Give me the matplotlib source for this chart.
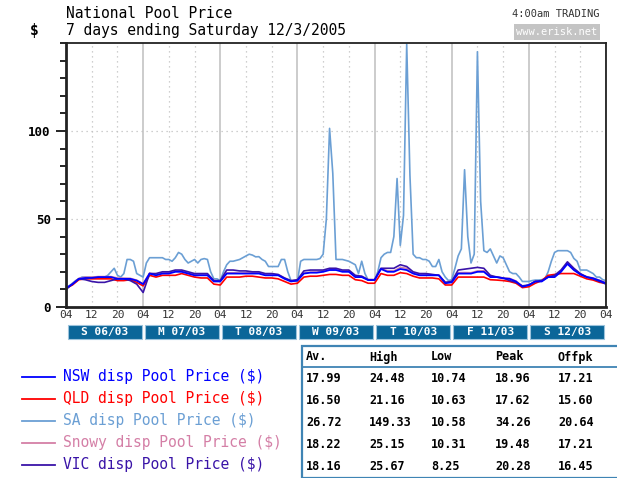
import numpy as np
import matplotlib
matplotlib.use("Agg")
import matplotlib.pyplot as plt
from matplotlib.patches import Rectangle
import matplotlib.transforms as mtransforms

plt.rcParams['font.family'] = ['DejaVu Sans Mono']

# hours after 04:00 on Sunday 06/03
hours_2h = np.arange(0, 169, 2)
hours_1h = np.arange(0, 169, 1)

nsw = [10.74, 13, 16, 16.5, 16.5, 17, 17, 17, 16, 16, 16, 15,
       13, 19, 18, 19, 19, 20, 20, 19, 18, 18, 18, 14.5,
       14.5, 19, 19, 19, 19, 19, 19, 18, 18, 18, 16, 14.5,
       15, 19, 19.5, 19.5, 20, 21, 21, 20, 20, 17, 17, 15.3,
       15.3, 21.6, 20, 20, 21.6, 21, 19, 18, 18, 18, 18, 13.5,
       14, 19, 19, 19, 20, 20, 17, 17, 16.3, 16, 14.5, 11.5,
       12.5, 14.5, 14.5, 17, 17, 20, 24.48, 21, 18.5, 17, 16.3, 15, 13.5]
qld = [10.63, 12.5, 15.5, 16, 16, 16, 16, 16, 15, 15, 15.5, 14,
       12, 18, 17, 18, 18, 18, 19, 18, 17, 16.5, 16.5, 13,
       12.5, 17, 17, 17, 17.5, 17.5, 17, 16.5, 16.5, 16, 14.5, 13,
       13.5, 17, 17.5, 17.5, 18, 18.5, 18.5, 18, 18, 15.5, 15, 13.5,
       13.5, 19, 18, 18, 19.5, 19, 17.5, 16.5, 16.5, 16.5, 16, 12.5,
       12.5, 17, 17, 17, 17, 17, 15.5, 15.3, 15, 14.5, 13.5, 11,
       11.5, 13.5, 15, 18, 18.5, 19, 19, 19, 17.5, 16, 15.3, 14, 13.5]
snowy = [10.31, 13.2, 16.3, 17, 17, 17.3, 17.3, 17.3, 16.5, 16.4, 16.3, 15.3,
         13.2, 19.3, 18.5, 19.3, 19.5, 20.3, 20.5, 19.4, 18.5, 18.4, 18.3, 15,
         14.8, 19.4, 19.5, 19.3, 19.4, 19.6, 19.5, 18.5, 18.4, 18.3, 16.4, 14.8,
         15.3, 19.3, 19.8, 19.9, 20.4, 21.4, 21.5, 20.4, 20.3, 17.3, 17.4, 15.6,
         15.6, 21.8, 20.6, 20.5, 22.5, 22, 19.4, 18.4, 18.5, 18.3, 18.2, 14,
         14.3, 19.5, 19.6, 19.5, 20.5, 20.6, 17.4, 17.2, 16.5, 16.3, 14.8, 11.8,
         12.3, 14.8, 14.8, 17.3, 17.5, 20.3, 25.15, 21.4, 18.8, 17.3, 16.5, 15.2, 13.8]
vic = [10, 13, 16, 15.5, 14.5, 14, 14, 15, 16, 16, 15, 13,
       8.25, 19, 19, 20, 20, 21, 21, 20, 19, 19, 19, 15,
       15, 21, 21, 20.5, 20.5, 20, 20, 19, 19, 18.5, 16.5, 15,
       15.5, 20.5, 21, 21, 21, 22, 22, 21, 21, 18, 17.5, 15.5,
       15.5, 22, 22, 22, 24, 23, 20, 19, 19, 18.5, 18, 14,
       14.5, 21, 21.5, 22, 22.5, 22, 18, 17, 16.5, 15, 14, 12,
       12.5, 14.5, 15, 17, 18, 21, 25.67, 22, 19, 17, 16, 14.5, 13]
sa = [10, 12, 13.5, 15, 16, 17, 17, 17, 17, 17, 17, 17,
      17, 18, 20, 22, 18, 17, 19, 27, 27, 26, 19, 18,
      17, 25, 28, 28, 28, 28, 28, 27, 27, 26, 28, 31,
      30, 27, 25, 26, 27, 25, 27, 27.5, 27, 20, 16, 16,
      15, 20, 24, 26, 26, 26.5, 27, 28, 29, 30, 29.5, 28.5,
      28.6, 27, 26, 23, 23, 23, 23, 27, 27, 20, 15, 14.7,
      14.7, 26, 27, 27, 27, 27, 27, 27.5, 30, 50, 101.5, 76,
      27, 27, 27, 26.5, 26, 25, 24, 19, 26, 19, 15.3, 15.3,
      15.3, 20, 28, 30, 31, 31, 40, 73, 35, 52, 149.33, 75,
      30, 28, 28, 27, 27, 26, 23, 23, 27, 20, 17, 15,
      15.5, 22, 29, 33, 78, 40, 25, 30, 145, 60, 32, 31,
      33, 29, 25, 29, 28, 24, 20, 19, 19, 17, 14.5, 14.5,
      14.5, 15, 15.3, 15.3, 15.5, 16, 20, 26, 31, 32, 32, 32,
      32, 31, 27.6, 26, 21, 21, 21, 20, 19, 17, 17, 15.5, 15]

day_labels = ["S 06/03", "M 07/03", "T 08/03", "W 09/03", "T 10/03", "F 11/03", "S 12/03"]
hour_labels = ["04", "12", "20"]

series_names = ["NSW", "QLD", "SA", "Snowy", "VIC"]
series_colors = ["#0000ff", "#ff0000", "#6b9fd4", "#d47fa6", "#3a14a8"]
table_cols = ["Av.", "High", "Low", "Peak", "Offpk"]
table_rows = [["17.99", "24.48", "10.74", "18.96", "17.21"],
              ["16.50", "21.16", "10.63", "17.62", "15.60"],
              ["26.72", "149.33", "10.58", "34.26", "20.64"],
              ["18.22", "25.15", "10.31", "19.48", "17.21"],
              ["18.16", "25.67", "8.25", "20.28", "16.45"]]

W, H = 617, 478
fig = plt.figure(figsize=(W / 100, H / 100), dpi=100)
ax = fig.add_axes([66 / W, 1 - 307 / H, 540 / W, 264 / H])

# grid
for h in range(0, 169, 8):
    if h % 24 == 0:
        ax.axvline(h, color="#c8c8c8", lw=1.3, zorder=0)
    else:
        ax.axvline(h, color="#c0c0c0", lw=0.9, ls=(0, (1, 3)), zorder=0)
for v in (50, 100):
    ax.axhline(v, color="#c0c0c0", lw=0.9, ls=(0, (1, 3)), zorder=0)

ax.plot(hours_1h, sa, color=series_colors[2], lw=1.2)
ax.plot(hours_2h, snowy, color=series_colors[3], lw=1.1)
ax.plot(hours_2h, qld, color=series_colors[1], lw=1.2)
ax.plot(hours_2h, vic, color=series_colors[4], lw=1.2)
ax.plot(hours_2h, nsw, color=series_colors[0], lw=1.3)

ax.set_xlim(0, 168)
ax.set_ylim(0, 150)
for s in ax.spines.values():
    s.set_color("#222222")
    s.set_linewidth(1.3)
ax.spines["left"].set_linewidth(2)
ax.spines["bottom"].set_linewidth(2)

ax.set_yticks([0, 50, 100])
ax.set_yticks(np.arange(0, 151, 10), minor=True)
ax.tick_params(axis="y", which="major", length=7, width=1.2, pad=4, labelsize=9)
ax.tick_params(axis="y", which="minor", length=4, width=1.2)
for t in ax.get_yticklabels():
    t.set_fontweight("bold")

xt = list(range(0, 169, 8))
ax.set_xticks(xt)
ax.set_xticklabels([hour_labels[i % 3] for i in range(len(xt))], fontsize=8, color="#333333")
ax.tick_params(axis="x", length=0, pad=2)

# day boxes under the axis
trans = mtransforms.blended_transform_factory(ax.transData, ax.transAxes)
for d, lab in enumerate(day_labels):
    ax.add_patch(Rectangle((24 * d + 0.5, -0.122), 23, 0.054, transform=trans,
                           facecolor="#0b6699", edgecolor="#9cc3dc", lw=0.8, clip_on=False))
    ax.text(24 * d + 12, -0.095, lab, transform=trans, ha="center", va="center",
            color="white", fontsize=8, fontweight="bold")

# titles
fig.text(66 / W, 1 - 13 / H, "National Pool Price", fontsize=10.5, va="center")
fig.text(66 / W, 1 - 31 / H, "7 days ending Saturday 12/3/2005", fontsize=10.5, va="center")
fig.text(30 / W, 1 - 31 / H, "$", fontsize=10.5, va="center", fontweight="bold")
fig.text(599 / W, 1 - 14 / H, "4:00am TRADING", fontsize=7.5, va="center", ha="right", color="#333333")
fig.text(557 / W, 1 - 32 / H, "www.erisk.net", fontsize=7.5, va="center", ha="center", color="white",
         bbox=dict(boxstyle="square,pad=0.25", facecolor="#c4c4c4", edgecolor="none"))

# legend
legend_labels = [n + " disp Pool Price ($)" for n in series_names]
for i, (lab, c) in enumerate(zip(legend_labels, series_colors)):
    y = 1 - (377 + 22 * i) / H
    fig.add_artist(plt.Line2D([22 / W, 55 / W], [y, y], color=c, lw=1.3))
    fig.text(63 / W, y, lab, color=c, fontsize=10.5, va="center")

# summary table
fig.add_artist(Rectangle((302 / W, 0), 1, 1 - 346 / H, transform=fig.transFigure,
                         facecolor="white", edgecolor="#3f84b4", lw=1.6))
fig.add_artist(plt.Line2D([302 / W, 1], [1 - 367 / H, 1 - 367 / H], color="#3f84b4", lw=1.3))
col_x = [306, 369, 431, 495, 558]
for j, name in enumerate(table_cols):
    fig.text(col_x[j] / W, 1 - 357 / H, name, fontsize=8.5, va="center", fontweight="bold")
for i, row in enumerate(table_rows):
    for j, val in enumerate(row):
        fig.text(col_x[j] / W, 1 - (379 + 22 * i) / H, val, fontsize=8.5, va="center", fontweight="bold")

fig.savefig("out.png", dpi=100)
